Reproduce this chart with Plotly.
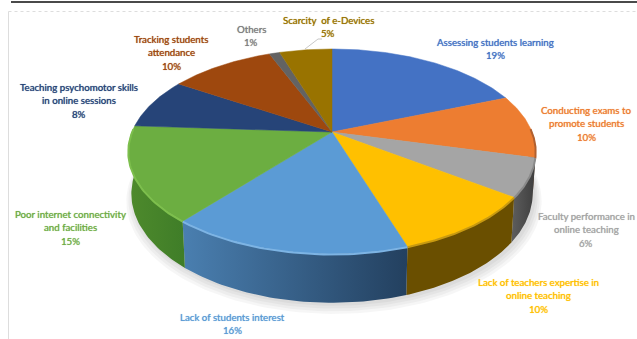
import numpy as np
import plotly.graph_objects as go

# Survey shares, clockwise from twelve o'clock
categories = [
    "Assessing students learning",
    "Conducting exams to<br>promote students",
    "Faculty performance in<br>online teaching",
    "Lack of teachers expertise in<br>online teaching",
    "Lack of students interest",
    "Poor internet connectivity<br>and facilities",
    "Teaching psychomotor skills<br>in online sessions",
    "Tracking students<br>attendance",
    "Others",
    "Scarcity  of e-Devices",
]
values = [19, 10, 6, 10, 16, 15, 8, 10, 1, 5]
top_colors = ["#4472C4", "#ED7D31", "#A5A5A5", "#FFC000", "#5B9BD5",
              "#6CAE41", "#264478", "#9E480E", "#636363", "#997300"]
side_left = ["#2F5597", "#A85820", "#5E5E5E", "#6A4F00", "#4A7FB0",
             "#4E8A2C", "#1A2F54", "#6E320A", "#444444", "#6B5000"]
side_right = ["#2F5597", "#3A2A1A", "#3E3E3E", "#6A4F00", "#23405F",
              "#3F7D28", "#1A2F54", "#6E320A", "#444444", "#6B5000"]
rim_colors = ["#4472C4", "#B06030", "#8A8A8A", "#C89A10", "#7DB4E4",
              "#7DBF4D", "#264478", "#9E480E", "#636363", "#997300"]
label_colors = ["#4472C4", "#ED7D31", "#A5A5A5", "#FFC000", "#5B9BD5",
                "#70AD47", "#264478", "#9E480E", "#7F7F7F", "#997300"]
label_x = [495, 586, 586, 538, 232, 70, 79, 171, 251, 328]
label_y = [42, 110, 216, 282, 317, 214, 87, 39, 29, 20]
LINE_GAP = 13.4

# Projection of the tilted disc into plot coordinates
CX, CY = 332.0, 132.0
SCALE_X, SCALE_Y = 200.0, 98.8
TILT = 0.19
DEPTH = 41.0
BASE_SHRINK = 0.985


def project(theta, shrink=1.0, depth=0.0, drop=0.0):
    u, v = np.sin(theta), np.cos(theta)
    d = 1 + TILT * v
    return CX + shrink * SCALE_X * u / d, CY + drop + (depth - shrink * SCALE_Y * v) / d


fig = go.Figure()

# Soft contact shadow under the base
full = np.linspace(0, 2 * np.pi, 240)
for grow, drop in [(1.035, 7), (1.025, 5.5), (1.015, 4), (1.005, 2.5)]:
    sx, sy = project(full, BASE_SHRINK * grow, DEPTH, drop)
    fig.add_trace(go.Scatter(x=sx + 2, y=sy, mode="lines", line=dict(width=0),
                             fill="toself", fillcolor="rgba(0,0,0,0.035)", hoverinfo="skip"))

edges = np.cumsum([0] + values) / sum(values) * 2 * np.pi
VIS_START, VIS_END = np.radians(88), np.radians(272)

# Outer wall, only where it faces the viewer
for i in range(len(values)):
    a, b = max(edges[i], VIS_START), min(edges[i + 1], VIS_END)
    if a >= b:
        continue
    t = np.linspace(a, b, 50)
    x1, y1 = project(t)
    x2, y2 = project(t[::-1], BASE_SHRINK, DEPTH)
    fig.add_trace(go.Scatter(
        x=np.r_[x1, x2, x1[0]], y=np.r_[y1, y2, y1[0]], mode="lines",
        line=dict(width=0), fill="toself", hoverinfo="skip",
        fillgradient=dict(type="horizontal",
                          colorscale=[[0, side_left[i]], [1, side_right[i]]]),
    ))

# Top face wedges
for i in range(len(values)):
    t = np.linspace(edges[i], edges[i + 1], max(int(values[i] * 6), 6))
    x, y = project(t)
    fig.add_trace(go.Scatter(
        x=np.r_[CX, x, CX], y=np.r_[CY, y, CY], mode="lines",
        line=dict(width=0.5, color=top_colors[i]), fill="toself",
        fillcolor=top_colors[i], hoverinfo="skip",
    ))

# Bevel highlight along the front rim
for i in range(len(values)):
    a, b = max(edges[i], VIS_START), min(edges[i + 1], VIS_END)
    if a >= b:
        continue
    t = np.linspace(a, b, 50)
    x, y = project(t, 1.0, 0.0, 0.5)
    fig.add_trace(go.Scatter(x=x, y=y, mode="lines", hoverinfo="skip",
                             line=dict(width=2, color=rim_colors[i])))

# Category and share labels, one annotation per line to hold the line pitch
for name, val, col, lx, ly in zip(categories, values, label_colors, label_x, label_y):
    for row, line in enumerate(name.split("<br>") + [f"{val}%"]):
        fig.add_annotation(x=lx, y=ly + row * LINE_GAP, text=line, showarrow=False,
                           xanchor="center", yanchor="middle", align="center",
                           font=dict(family="Lato", size=9.7, color=col,
                                     shadow=f"0 0 0.7px {col}"))

frame_shapes = [
    dict(type="line", x0=11, x1=637, y0=2, y1=2, line=dict(color="#4A4A4A", width=2)),
    dict(type="line", x0=8.5, x1=637, y0=11.5, y1=11.5, line=dict(color="#DDDDDD", width=1, dash="dot")),
    dict(type="line", x0=8.5, x1=8.5, y0=11.5, y1=339, line=dict(color="#DDDDDD", width=1)),
    dict(type="line", x0=305, x1=318, y0=49, y1=39, line=dict(color="#B0B0B0", width=0.7)),
    dict(type="line", x0=318, x1=322, y0=39, y1=39, line=dict(color="#B0B0B0", width=0.7)),
]

fig.update_layout(
    width=637, height=339, margin=dict(l=0, r=0, t=0, b=0),
    paper_bgcolor="white", plot_bgcolor="white", showlegend=False,
    xaxis=dict(range=[0, 637], visible=False, fixedrange=True),
    yaxis=dict(range=[339, 0], visible=False, fixedrange=True),
    shapes=frame_shapes,
)
fig.write_html("out.html", config={"displayModeBar": False})
